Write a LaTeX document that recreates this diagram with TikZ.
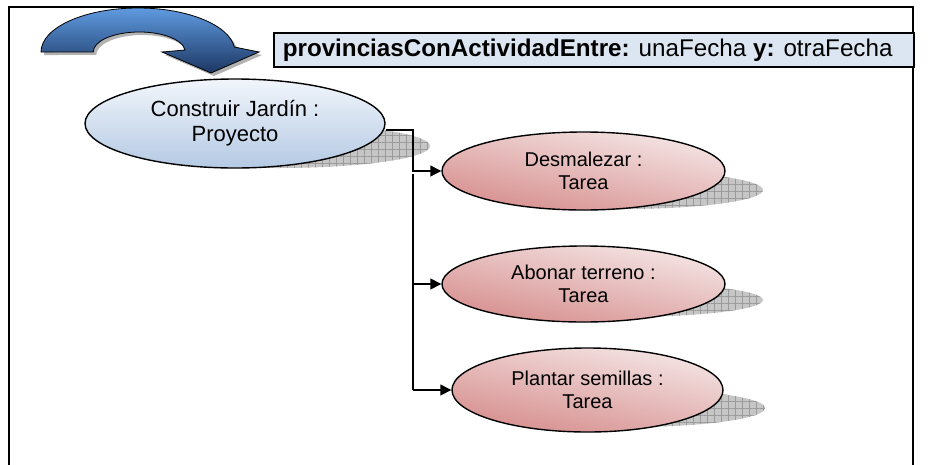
\documentclass[tikz,border=0pt]{standalone}
\usepackage{fontspec}
\setmainfont{Liberation Sans}
\usetikzlibrary{arrows.meta,shapes.geometric,patterns.meta}
\definecolor{projtop}{HTML}{F2F6FB}
\definecolor{projbot}{HTML}{B4C9E4}
\definecolor{tasklight}{HTML}{F5E6E6}
\definecolor{taskdark}{HTML}{D68E8D}
\definecolor{titlefill}{HTML}{DCE6F2}
\definecolor{arrowtop}{HTML}{5F9AE0}
\definecolor{arrowmid}{HTML}{4A82C8}
\definecolor{arrowbot}{HTML}{1C3763}
\definecolor{shadowgray}{HTML}{C6C6C6}
\definecolor{gridgray}{HTML}{9A9A9A}
\begin{document}
\begin{tikzpicture}[x=1pt,y=-1pt,
  projnode/.style={ellipse, draw, line width=1.4pt, top color=projtop, bottom color=projbot,
    minimum width=300pt, minimum height=89pt, inner sep=0pt, align=center,
    font=\fontsize{22}{25}\selectfont},
  tasknode/.style={ellipse, draw, line width=1.4pt, top color=tasklight, bottom color=taskdark,
    shading angle=-12, inner sep=0pt, align=center, font=\fontsize{20}{23}\selectfont},
  shadowfill/.style={fill=shadowgray, postaction={pattern={Hatch[angle=0,distance=7pt,line width=0.5pt]}, pattern color=gridgray}},
  conn/.style={line width=1.4pt},
  arr/.style={conn, -{Triangle[length=11pt,width=11pt]}},
  titlebox/.style={draw, line width=1.6pt, fill=titlefill, anchor=north west, minimum height=34pt,
    minimum width=640pt, inner xsep=0pt, inner ysep=0pt, font=\fontsize{24.2}{28}\selectfont}
]
\useasboundingbox (0,0) rectangle (943,464);
\fill[white] (0,0) rectangle (943,464);

% outer frame
\draw[line width=2pt] (9,480) -- (9,7) -- (913,7) -- (913,480);

% shadows
\path[shadowfill] (278,146) ellipse[x radius=152, y radius=22];
\path[shadowfill] (622,190) ellipse[x radius=141, y radius=19];
\path[shadowfill] (622,300) ellipse[x radius=141, y radius=17];
\path[shadowfill] (629,408) ellipse[x radius=136, y radius=19];

% curved arrow shadow
\begin{scope}[shift={(3,3)}]
\fill[gray!60] (41,52) arc[start angle=180, end angle=353.5, x radius=97, y radius=44]
  -- (259,52) -- (211,73) -- (162,52) -- (185,50)
  arc[start angle=354.3, end angle=180, x radius=46, y radius=20] -- cycle;
\end{scope}
% curved arrow
\draw[line width=0.8pt, top color=arrowtop, middle color=arrowmid, bottom color=arrowbot]
  (41,52) arc[start angle=180, end angle=353.5, x radius=97, y radius=44]
  -- (259,52) -- (211,73) -- (162,52) -- (185,50)
  arc[start angle=354.3, end angle=180, x radius=46, y radius=20] -- cycle;

% title
\node[titlebox] (title) at (273,32) {\makebox[622pt][l]{\textbf{provinciasConActividadEntre:} unaFecha \textbf{y:} otraFecha}};

% nodes
\node[projnode] (proj) at (235,123.5) {Construir Jardín :\\Proyecto};
\node[tasknode, minimum width=283pt, minimum height=78pt] (desm) at (583.5,171) {Desmalezar :\\Tarea};
\node[tasknode, minimum width=283pt, minimum height=76pt] (abon) at (583.5,284) {Abonar terreno :\\Tarea};
\node[tasknode, minimum width=271pt, minimum height=84pt] (plant) at (587.5,390) {Plantar semillas :\\Tarea};

% connectors
\coordinate (j1) at (413,130);
\coordinate (j2) at (413,174);
\draw[arr] (proj.east |- j1) -- (j1) |- (desm.west);
\draw[conn] (j2) -- (j2 |- plant.west);
\draw[arr] (j2 |- abon.west) -- (abon.west);
\draw[arr] (j2 |- plant.west) -- (plant.west);
\end{tikzpicture}
\end{document}
